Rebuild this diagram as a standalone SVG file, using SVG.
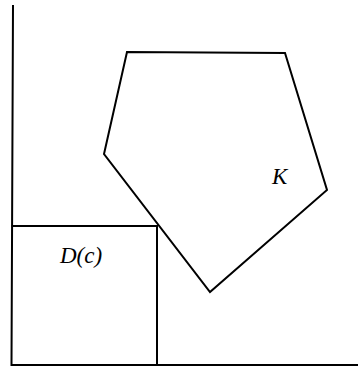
<svg xmlns="http://www.w3.org/2000/svg" width="358" height="368" viewBox="0 0 358 368">
<style>
.ln{fill:none;stroke:#000;stroke-width:2;stroke-linejoin:miter}
.lb{font-family:"Liberation Serif",serif;font-style:italic;font-size:23px;fill:#000}
</style>
<rect width="358" height="368" fill="#fff"/>
<g id="axes">
<polyline class="ln" points="13,5 11.5,365 358,365"/>
</g>
<g id="K">
<polygon class="ln" points="127,52 285,53 327,190 210,292 104,154"/>
<text class="lb" x="272" y="184">K</text>
</g>
<g id="Dc">
<polyline class="ln" points="11.5,226 157,226 157,365"/>
<text class="lb" x="60" y="263">D(c)</text>
</g>
</svg>
